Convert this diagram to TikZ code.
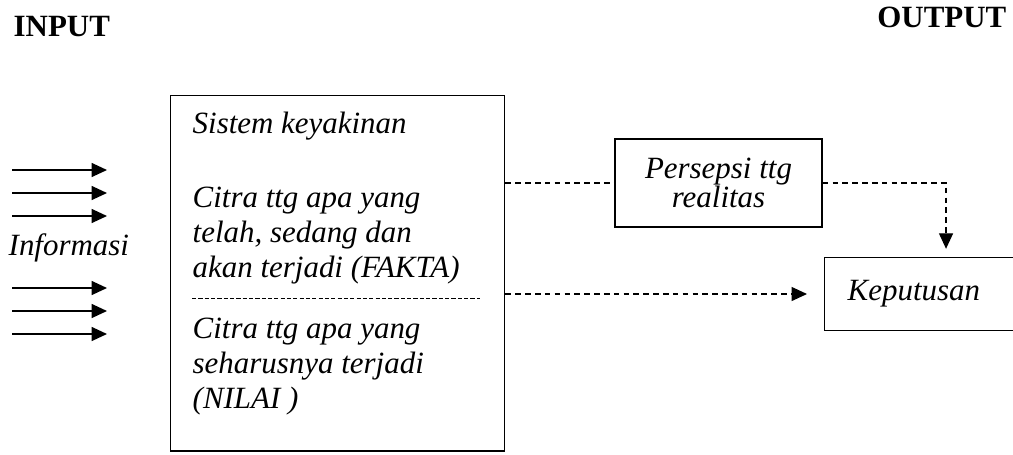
\documentclass[tikz,border=0pt]{standalone}
\usepackage{fontspec}
\setmainfont{Liberation Serif}
\usetikzlibrary{arrows.meta}

\begin{document}
\begin{tikzpicture}[x=0.025cm, y=-0.025cm, line width=1pt,
  >={Triangle[length=11pt,width=10pt]},
  txt/.style={font=\fontsize{22}{24.8}\selectfont\itshape, inner sep=0pt, align=left},
  head/.style={font=\fontsize{22}{24.8}\selectfont\bfseries, inner sep=0pt},
  link/.style={dashed, line width=0.8pt, dash pattern=on 4pt off 3pt}]
\useasboundingbox (0,0) rectangle (1013,454);

\node[head, anchor=base west] (input) at (13,36) {INPUT};
\node[head, anchor=base east] (output) at (1007,27) {OUTPUT};

% incoming information
\node[txt, anchor=base west] (informasi) at (8,255) {Informasi};
\foreach \y in {170,193,216,288,311,334}
  \draw[->] (12,\y) -- (107,\y);

% belief system box
\node[draw, anchor=north west, minimum width=8.35cm, minimum height=8.875cm, inner sep=0pt] (sistem) at (170,95) {};
\node[txt, anchor=base west] (keyakinan) at (192,133) {Sistem keyakinan};
\node[txt, anchor=base west] (fakta) at (192,277) {Citra ttg apa yang\\telah, sedang dan\\akan terjadi (FAKTA)};
\coordinate (sepa) at (192,298);
\coordinate (sepb) at (480,298);
\draw[dashed, line width=0.6pt, dash pattern=on 3pt off 1.5pt] (sepa) -- (sepb);
\node[txt, anchor=base west] (nilai) at (192,408) {Citra ttg apa yang\\seharusnya terjadi\\(NILAI )};

% perception and decision
\node[draw, txt, align=center, font=\fontsize{22}{20.6}\selectfont\itshape, minimum width=5.175cm, minimum height=2.2cm] (persepsi) at (718.5,183) {Persepsi ttg\\realitas};
\node[draw, txt, anchor=west, text width=4.5cm, inner xsep=0.575cm, minimum height=1.825cm] (keputusan) at (824,294) {Keputusan};

\draw[link] (sistem.east |- persepsi.west) -- (persepsi.west);
\draw[link, ->, shorten >=0.2cm] (persepsi.east) -| ([xshift=3.05cm]keputusan.north west);
\draw[link, ->, shorten >=0.425cm] (sistem.east |- keputusan.west) -- (keputusan.west);
\end{tikzpicture}
\end{document}
